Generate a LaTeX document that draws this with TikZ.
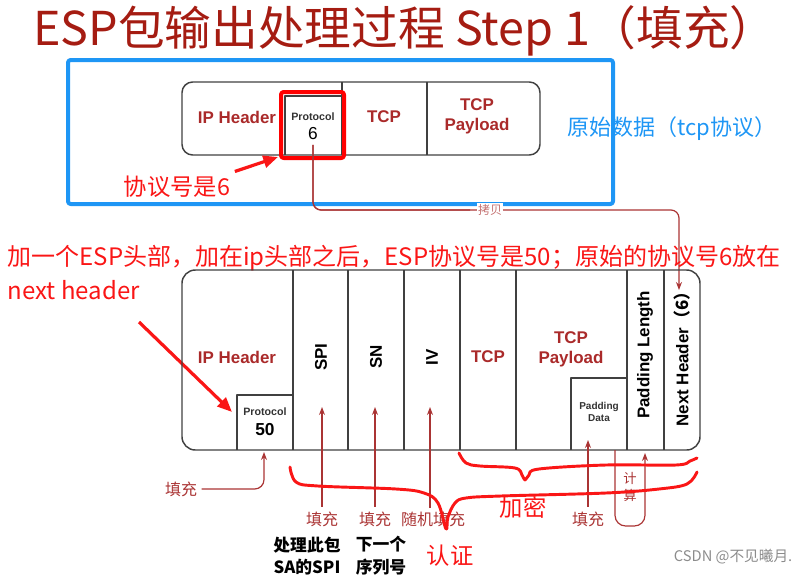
\documentclass[tikz,border=0pt]{standalone}
\usepackage{fontspec}
\setmainfont{Liberation Sans}
\newfontfamily\cjk{Noto Sans CJK SC}
\usetikzlibrary{arrows.meta}

\definecolor{titlered}{RGB}{165,28,18}
\definecolor{pktred}{RGB}{170,42,42}
\definecolor{annred}{RGB}{250,22,22}
\definecolor{boxblue}{RGB}{30,150,245}
\definecolor{arrred}{RGB}{170,52,52}

\tikzset{
  field/.style={font=\bfseries\fontsize{12.7}{15}\selectfont, text=pktred, align=center},
  vfield/.style={font=\bfseries\fontsize{12.7}{15}\selectfont, rotate=90},
  small/.style={font=\bfseries\fontsize{8}{9.5}\selectfont, text=black!80, align=center},
  note/.style={font=\cjk\fontsize{17.5}{21}\selectfont, text=annred},
  tag/.style={font=\cjk\fontsize{12}{14}\selectfont, text=arrred},
  up/.style={arrred, line width=0.9pt, -{Stealth[length=6pt,width=4.5pt]}},
  pkt/.style={draw=black!75, line width=1.1pt},
  brace/.style={annred, line width=2.2pt, line cap=round, smooth, tension=0.6}
}

\begin{document}
\begin{tikzpicture}[x=0.75pt,y=-0.75pt,line join=round]
\useasboundingbox (0,0) rectangle (801,576);

% Title
\node[font=\cjk\fontsize{35}{40}\selectfont, text=titlered] (title) at (405,31) {ESP包输出处理过程 Step 1（填充）};

% Original packet (blue frame)
\draw[boxblue, line width=3pt, rounded corners=2pt] (68,60) rectangle (613,204);
\draw[pkt, rounded corners=8pt] (182,82) rectangle (540,155);
\draw[pkt] (342,82) -- (342,155);
\draw[pkt] (427,82) -- (427,155);
\draw[pkt] (285,155) |- (342,96);
\node[field] (ipA) at (237,117) {IP Header};
\node[small] (protoA) at (313,117) {Protocol};
\node[font=\fontsize{13}{15}\selectfont] (sixA) at (313,134) {6};
\node[field] (tcpA) at (384,117) {TCP};
\node[field] (payA) at (477,116) {TCP\\Payload};
\node[font=\cjk\fontsize{16.5}{20}\selectfont, text=boxblue] (orig) at (672,129) {原始数据（tcp协议）};

% Red mark on protocol 6
\draw[red, line width=3pt, rounded corners=2pt] (281,92) rectangle (344,158);
\coordinate (sqA) at (278,157);
\node[note] (n6) at (177,187) {协议号是6};
\draw[annred, line width=2.4pt, -{Triangle[length=11pt,width=9pt]}] (n6.north east) -- (sqA);

% Copy to next header
\coordinate (nhTop) at (679,290);
\draw[arrred, line width=0.9pt, rounded corners=6pt, -{Stealth[length=6pt,width=4.5pt]}] (sixA.south) |- (560,210) -| (nhTop);
\draw[arrred, line width=0.9pt, rounded corners=6pt] (sixA.south) |- (470,210);
\node[tag, font=\cjk\fontsize{9}{10}\selectfont, text=arrred!70, fill=white, inner sep=1pt] (copy) at (490,210) {拷贝};

% Explanation
\node[note, font=\cjk\fontsize{18}{21}\selectfont, anchor=west] (expl1) at (3,258) {加一个ESP头部，加在ip头部之后，ESP协议号是50；原始的协议号6放在};
\node[note, font=\cjk\fontsize{18}{21}\selectfont, anchor=west] (expl2) at (3,290) {next header};
\draw[annred, line width=2.4pt, -{Triangle[length=11pt,width=9pt]}] (139,322) -- (232,412);

% ESP packet
\draw[pkt, rounded corners=10pt] (182,270) rectangle (700,450);
\foreach \x in {293,348,404,460,516,627,664}
  \draw[pkt] (\x,270) -- (\x,450);
\draw[pkt] (237,450) |- (293,395);
\draw[pkt] (571,450) |- (627,378);
\node[field] (ipB) at (237,357) {IP Header};
\node[small] (protoB) at (265,412) {Protocol};
\node[font=\bfseries\fontsize{13}{15}\selectfont] (fiftyB) at (265,430) {50};
\node[vfield] (spi) at (321,357) {SPI};
\node[vfield] (sn) at (376,357) {SN};
\node[vfield] (iv) at (432,357) {IV};
\node[field] (tcpB) at (488,357) {TCP};
\node[field] (payB) at (571,349) {TCP\\Payload};
\node[small, font=\bfseries\fontsize{7.5}{9}\selectfont] (padD) at (599,412) {Padding\\Data};
\node[vfield] (padL) at (645,355) {Padding Length};
\node[vfield] (nh) at (682,355) {Next Header{\cjk\bfseries（6）}};

% Arrows below the packet
\node[tag] (fillP) at (181,489) {填充};
\draw[up, rounded corners=7pt] (fillP.east) -| (264,452);
\node[tag] (fillSPI) at (322,519) {填充};
\node[tag] (fillSN) at (375,519) {填充};
\node[tag] (fillIV) at (433,519) {随机填充};
\node[tag] (fillPad) at (588,519) {填充};
\draw[up] (fillSPI.north) -- (322,407);
\draw[up] (fillSN.north) -- (375,407);
\draw[up] (430,508) -- (430,407);
\draw[up] (fillPad.north) -- (588,440);
\draw[up, rounded corners=8pt] (615,450) -- (615,526) -| (645,453);
\node[tag, font=\cjk\fontsize{10}{13}\selectfont, align=center] (calc) at (630,487) {计\\算};

% Notes under SPI and SN
\node[font=\cjk\bfseries\fontsize{12.6}{17}\selectfont, align=center] (spiNote) at (307,556) {处理此包\\SA的SPI};
\node[font=\cjk\bfseries\fontsize{12.6}{17}\selectfont, align=center] (snNote) at (381,556) {下一个\\序列号};

% Hand drawn braces
\draw[brace] plot coordinates {(459,453) (466,463) (480,466) (515,468) (522,475) (525,480) (529,475) (539,469) (606,465) (676,465) (690,461) (697,458)};
\draw[brace] plot coordinates {(290,467) (296,482) (318,486) (396,489) (424,493) (438,503) (446,529) (448,517) (455,503) (466,498) (501,496) (606,493) (659,489) (687,484) (697,472)};
\node[note] (enc) at (523,508) {加密};
\node[note] (auth) at (450,556) {认证};

% Watermark
\node[font=\cjk\fontsize{11}{13}\selectfont, text=black!45, anchor=east] (mark) at (797,557) {CSDN @不见曦月.};
\end{tikzpicture}
\end{document}
